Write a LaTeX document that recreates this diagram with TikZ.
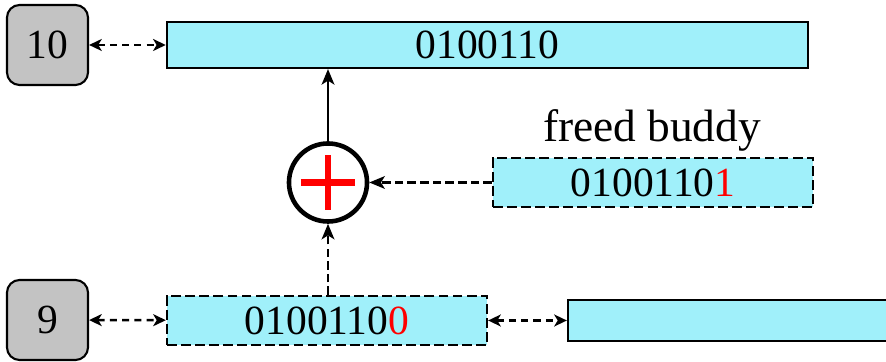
\documentclass[tikz,border=0pt]{standalone}
\usepackage{fontspec}
\setmainfont{Liberation Serif}
\usetikzlibrary{arrows.meta}

\definecolor{blkfill}{RGB}{160,240,250}
\definecolor{idxfill}{RGB}{195,195,195}

\begin{document}
\begin{tikzpicture}[x=0.01cm,y=-0.01cm,font=\fontsize{11.8}{14}\selectfont,
  blk/.style={draw, line width=0.6pt, fill=blkfill, inner sep=0pt},
  free/.style={blk, dash pattern=on 2.8pt off 1.2pt},
  idx/.style={draw, line width=0.6pt, fill=idxfill, rounded corners=3.6pt,
    minimum width=0.81cm, minimum height=0.8cm},
  link/.style={line width=0.7pt, dash pattern=on 2pt off 1.5pt,
    {Stealth[length=3.6pt,width=3.4pt,inset=1pt]}-{Stealth[length=3.6pt,width=3.4pt,inset=1pt]}},
  feed/.style={line width=0.7pt, dash pattern=on 2.4pt off 1.2pt,
    -{Stealth[length=4.4pt,width=3.6pt,inset=1.1pt]}}
]
\useasboundingbox (0,0) rectangle (886,362);
\clip (0,0) rectangle (886,362);

% free lists 10 and 9
\node[idx] (n10) at (47.5,45) {10};
\node[idx] (n9) at (47.5,320) {9};

% merged block
\node[blk, minimum width=6.41cm, minimum height=0.46cm] (merged) at (487.5,45) {0100110};

% the two buddies
\node[free, minimum width=3.2cm, minimum height=0.49cm] (buddy) at (653,182.5)
  {0100110\textcolor{red}{1}};
\node[font=\fontsize{12.9}{15}\selectfont] (lbl) at (652,130) {freed buddy};
\node[free, minimum width=3.2cm, minimum height=0.49cm] (blk9) at (327,320.5)
  {0100110\textcolor{red}{0}};
\node[blk, minimum width=3.4cm, minimum height=0.41cm] (next) at (738,320.5) {};

% xor
\node[draw, circle, line width=1.3pt, minimum size=0.78cm, inner sep=0pt] (sum) at (328,182.5) {};
\draw[red, line width=1.8pt] ([xshift=-0.27cm]sum.center) -- ([xshift=0.27cm]sum.center);
\draw[red, line width=1.8pt] ([yshift=-0.27cm]sum.center) -- ([yshift=0.27cm]sum.center);

% links
\draw[link] (n10) -- (merged);
\draw[link] (n9) -- (blk9);
\draw[link] (blk9) -- (next);
\draw[feed] (buddy) -- (sum);
\draw[feed] (blk9.north -| sum) -- (sum);
\draw[line width=0.7pt, -{Stealth[length=4.4pt,width=3.6pt,inset=1.1pt]}] (sum) -- (merged.south -| sum);

\end{tikzpicture}
\end{document}
